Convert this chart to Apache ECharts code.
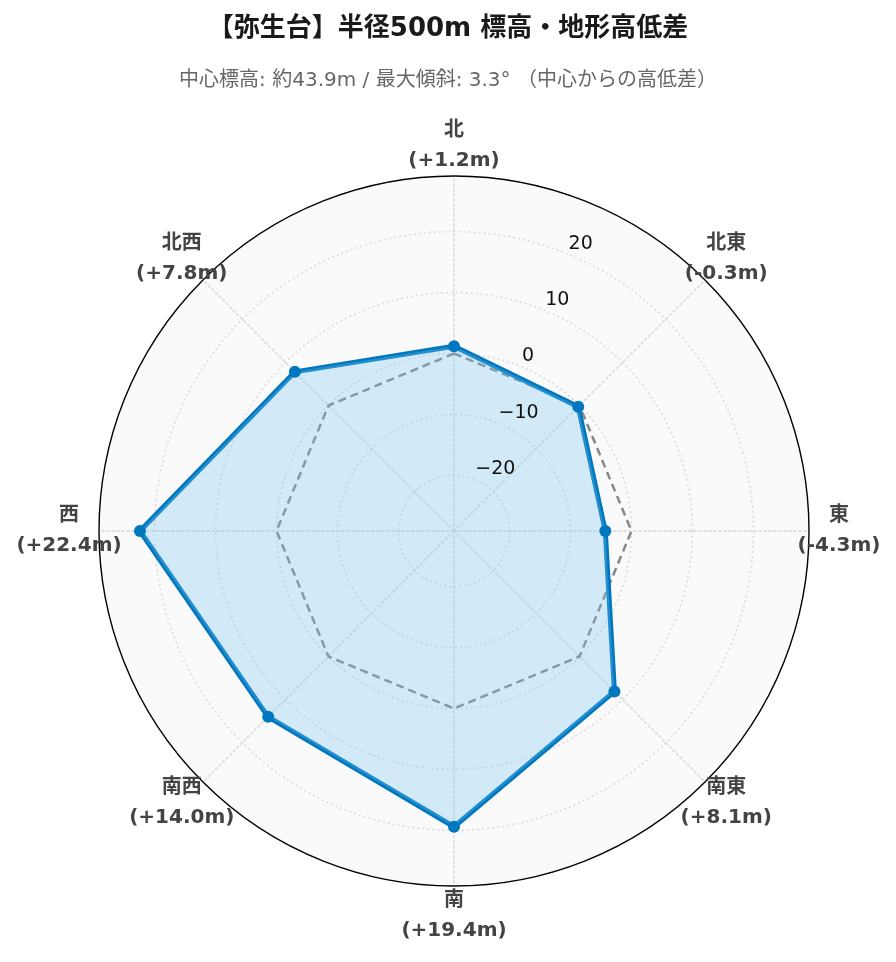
<!DOCTYPE html>
<html>
<head>
<meta charset="utf-8">
<script src="https://cdn.jsdelivr.net/npm/echarts@6/dist/echarts.min.js"></script>
<style>html,body{margin:0;padding:0;background:#fff}#c{width:896px;height:962px}</style>
</head>
<body>
<div id="c"></div>
<script>
// ---- data ----
const directions = ['北', '北東', '東', '南東', '南', '南西', '西', '北西'];
const diffs = [1.2, -0.3, -4.3, 8.1, 19.4, 14.0, 22.4, 7.8];
const reference = [0, 0, 0, 0, 0, 0, 0, 0];
const radialTicks = [-20, -10, 0, 10, 20];
const rangeMax = 29.12;
const titleText = '【弥生台】半径500m 標高・地形高低差';
const subText = '中心標高: 約43.9m / 最大傾斜: 3.3° （中心からの高低差）';

const FONT = "'DejaVu Sans', 'Noto Sans CJK JP', sans-serif";
// radar goes counter-clockwise; reorder so directions run clockwise from north
const order = [0, 7, 6, 5, 4, 3, 2, 1];
const fmt = v => (v >= 0 ? '+' : '-') + Math.abs(v).toFixed(1) + 'm';
const C = [454, 531], R = 355;
const GRID = {color: '#dedede', type: [2, 3], width: 1.8};
const hiddenAngle = (idx, z) => ({type: 'value', polarIndex: idx, min: 0, max: 360, startAngle: 67.5, z: z,
  axisLine: {show: false}, axisTick: {show: false}, axisLabel: {show: false}, splitLine: {show: false}});

const chart = echarts.init(document.getElementById('c'), null, {renderer: 'canvas'});
chart.setOption({
  animation: false,
  backgroundColor: '#fff',
  title: [
    {text: titleText, left: 'center', top: 9,
     textStyle: {fontFamily: FONT, fontSize: 26, fontWeight: 'bold', color: '#1a1a1a', lineHeight: 30}},
    {text: subText, left: 'center', top: 64,
     textStyle: {fontFamily: FONT, fontSize: 20, fontWeight: 'normal', color: '#666', lineHeight: 24}}
  ],
  radar: {
    center: C, radius: R, startAngle: 90, shape: 'circle', splitNumber: 1, z: 0,
    indicator: order.map(i => ({name: directions[i] + '\n(' + fmt(diffs[i]) + ')', min: -rangeMax, max: rangeMax})),
    axisName: {color: '#444', fontSize: 20, fontWeight: 'bold', fontFamily: FONT,
               align: 'center', verticalAlign: 'middle', lineHeight: 30},
    nameGap: 30,
    axisLine: {lineStyle: GRID},
    splitLine: {lineStyle: {color: '#000', width: 1.4}},
    splitArea: {show: true, areaStyle: {color: ['#fafafa']}},
    axisTick: {show: false},
    axisLabel: {show: false}
  },
  polar: [{center: C, radius: R}, {center: C, radius: R}],
  angleAxis: [hiddenAngle(0, 1), hiddenAngle(1, 10)],
  radiusAxis: [
    {type: 'value', polarIndex: 0, min: -rangeMax, max: rangeMax, z: 1,
     axisLine: {show: false},
     axisTick: {show: false, customValues: radialTicks},
     axisLabel: {show: false},
     splitLine: {show: true, lineStyle: GRID}},
    {type: 'value', polarIndex: 1, min: -rangeMax, max: rangeMax, z: 10,
     axisLine: {show: false},
     axisTick: {show: false, customValues: radialTicks},
     splitLine: {show: false},
     axisLabel: {customValues: radialTicks, margin: 0, align: 'left', verticalAlign: 'bottom',
       color: '#111', fontSize: 19, fontFamily: FONT, padding: [0, 0, 1, 0],
       formatter: v => (v < 0 ? '\u2212' + Math.abs(v) : String(v))}}
  ],
  series: [{
    type: 'radar', z: 3,
    data: [
      {value: order.map(i => reference[i]), symbol: 'none',
       lineStyle: {color: '#888', width: 2.5, type: [8, 5]}},
      {value: order.map(i => diffs[i]), symbol: 'circle', symbolSize: 12,
       itemStyle: {color: '#0077be'},
       lineStyle: {color: '#0077be', width: 5},
       areaStyle: {color: 'rgba(120,200,245,0.3)', opacity: 1}}
    ]
  }]
});
</script>
</body>
</html>
